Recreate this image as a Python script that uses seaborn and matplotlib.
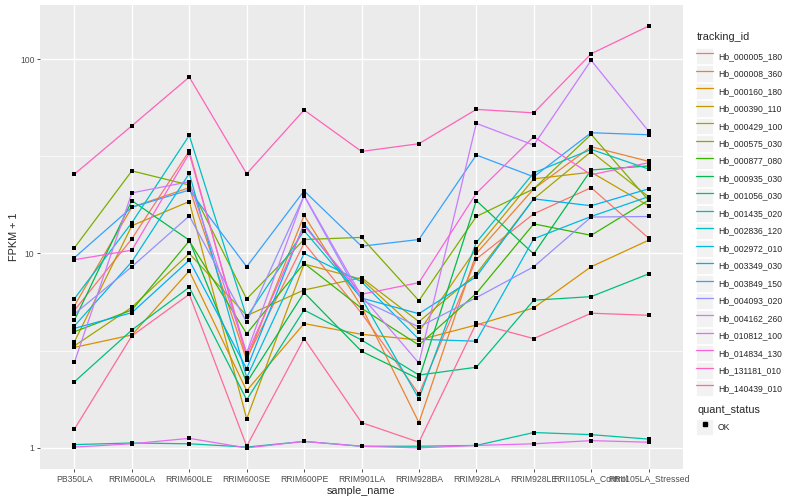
import numpy as np
import pandas as pd
import seaborn as sns
import matplotlib
matplotlib.use("Agg")
import matplotlib.pyplot as plt
from matplotlib.lines import Line2D
from matplotlib.patches import Rectangle
from matplotlib.legend_handler import HandlerTuple
from matplotlib.ticker import FixedLocator, NullFormatter

samples = ["PB350LA", "RRIM600LA", "RRIM600LE", "RRIM600SE", "RRIM600PE", "RRIM901LA",
           "RRIM928BA", "RRIM928LA", "RRIM928LE", "RRII105LA_Control", "RRII105LA_Stressed"]

# FPKM per sample (plotted as FPKM + 1)
hb_000005_180 = [4.10, 10.9, 32.7, 1.89, 10.3, 3.93, 0.89, 8.37, 15.0, 20.8, 11.0]
hb_000008_360 = [4.39, 16.3, 20.8, 1.83, 14.7, 4.33, 0.35, 9.0, 20.5, 34.4, 28.8]
hb_000160_180 = [2.29, 2.81, 7.13, 0.97, 3.36, 2.84, 2.59, 3.29, 4.25, 7.55, 10.7]
hb_000390_110 = [2.52, 12.9, 17.5, 0.41, 7.83, 6.37, 2.96, 9.6, 23.2, 25.2, 16.6]
hb_000429_100 = [2.35, 4.29, 9.0, 3.79, 5.49, 6.51, 3.46, 6.85, 18.1, 32.4, 18.6]
hb_000575_030 = [9.7, 25.6, 21.5, 4.84, 10.8, 11.1, 4.72, 14.5, 20.5, 40.0, 17.8]
hb_000877_080 = [2.96, 4.12, 10.6, 2.87, 7.9, 4.23, 2.38, 5.24, 13.2, 11.4, 17.8]
hb_000935_030 = [3.55, 17.7, 10.7, 1.17, 5.29, 2.14, 1.26, 17.7, 8.94, 25.9, 27.2]
hb_001056_030 = [1.19, 3.04, 5.70, 0.77, 4.12, 2.59, 1.37, 1.60, 4.75, 5.0, 6.85]
hb_001435_020 = [0.04, 0.06, 0.05, 0.01, 0.08, 0.02, 0.02, 0.03, 0.20, 0.17, 0.11]
hb_002836_120 = [4.86, 13.4, 39.5, 3.70, 12.1, 4.89, 0.79, 10.4, 25.0, 33.3, 26.2]
hb_002972_010 = [3.24, 8.07, 24.8, 1.30, 9.0, 6.16, 2.62, 2.54, 10.9, 14.5, 18.6]
hb_003349_030 = [3.12, 3.96, 8.23, 1.55, 13.2, 4.90, 3.90, 6.60, 18.1, 16.6, 20.5]
hb_003849_150 = [8.52, 16.3, 20.2, 7.55, 20.0, 9.9, 10.8, 31.1, 23.8, 40.8, 39.8]
hb_004093_020 = [3.89, 7.55, 14.6, 3.44, 18.8, 4.77, 3.19, 4.93, 7.55, 14.4, 14.5]
hb_004162_260 = [1.76, 19.5, 22.4, 2.09, 18.9, 5.05, 1.73, 45.7, 35.1, 97.5, 41.6]
hb_010812_100 = [0.01, 0.05, 0.12, 0.0, 0.08, 0.02, 0.0, 0.03, 0.05, 0.09, 0.07]
hb_014834_130 = [8.29, 9.4, 31.7, 2.01, 12.9, 5.17, 6.08, 19.4, 38.9, 24.4, 28.3]
hb_131181_010 = [24.6, 44.4, 79.8, 24.7, 53.7, 32.5, 35.7, 54.1, 51.9, 105.5, 146.8]
hb_140439_010 = [0.25, 2.77, 5.17, 0.02, 2.65, 0.35, 0.07, 3.38, 2.65, 3.93, 3.81]

series = {
    "Hb_000005_180": hb_000005_180, "Hb_000008_360": hb_000008_360,
    "Hb_000160_180": hb_000160_180, "Hb_000390_110": hb_000390_110,
    "Hb_000429_100": hb_000429_100, "Hb_000575_030": hb_000575_030,
    "Hb_000877_080": hb_000877_080, "Hb_000935_030": hb_000935_030,
    "Hb_001056_030": hb_001056_030, "Hb_001435_020": hb_001435_020,
    "Hb_002836_120": hb_002836_120, "Hb_002972_010": hb_002972_010,
    "Hb_003349_030": hb_003349_030, "Hb_003849_150": hb_003849_150,
    "Hb_004093_020": hb_004093_020, "Hb_004162_260": hb_004162_260,
    "Hb_010812_100": hb_010812_100, "Hb_014834_130": hb_014834_130,
    "Hb_131181_010": hb_131181_010, "Hb_140439_010": hb_140439_010,
}
ids = list(series.keys())


def hcl_color(h, c=100, l=65):
    # ggplot2 default hue palette (polar CIELUV -> sRGB)
    hr = np.deg2rad(h)
    u, v = c * np.cos(hr), c * np.sin(hr)
    xn, yn, zn = 95.047, 100.0, 108.883
    un = 4 * xn / (xn + 15 * yn + 3 * zn)
    vn = 9 * yn / (xn + 15 * yn + 3 * zn)
    y = yn * ((l + 16) / 116) ** 3
    up = u / (13 * l) + un
    vp = v / (13 * l) + vn
    x = y * 9 * up / (4 * vp)
    z = y * (12 - 3 * up - 20 * vp) / (4 * vp)
    x, y, z = x / 100, y / 100, z / 100
    rgb = np.array([3.2406 * x - 1.5372 * y - 0.4986 * z,
                    -0.9689 * x + 1.8758 * y + 0.0415 * z,
                    0.0557 * x - 0.2040 * y + 1.0570 * z])
    rgb = np.where(rgb > 0.0031308, 1.055 * np.abs(rgb) ** (1 / 2.4) - 0.055, 12.92 * rgb)
    return tuple(np.clip(rgb, 0, 1))


hues = np.linspace(15, 375, len(ids) + 1)[:-1]
palette = {tid: hcl_color(h) for tid, h in zip(ids, hues)}

rows = []
for tid, vals in series.items():
    for s, v in zip(samples, vals):
        rows.append({"tracking_id": tid, "sample_name": s, "fpkm": v, "quant_status": "OK"})
df = pd.DataFrame(rows)
df["FPKM + 1"] = df["fpkm"] + 1
df["sample_name"] = pd.Categorical(df["sample_name"], categories=samples, ordered=True)
df["x"] = df["sample_name"].cat.codes

sns.set_theme(style="darkgrid", rc={
    "axes.facecolor": "#EBEBEB",
    "grid.color": "white",
    "axes.edgecolor": "#EBEBEB",
})
plt.rcParams["font.family"] = ["Liberation Sans", "DejaVu Sans"]

fig, ax = plt.subplots(figsize=(8, 5), dpi=100)
fig.subplots_adjust(left=40 / 800, right=683 / 800, top=1 - 5 / 500, bottom=1 - 469 / 500)

sns.lineplot(data=df, x="x", y="FPKM + 1", hue="tracking_id", hue_order=ids,
             palette=palette, sort=False, estimator=None, linewidth=0.9,
             legend=False, ax=ax)
sns.scatterplot(data=df, x="x", y="FPKM + 1", color="black", marker="s", s=8,
                linewidth=0, legend=False, ax=ax, zorder=5)

ax.set_yscale("log")
lo = np.log10(df["FPKM + 1"].min())
hi = np.log10(df["FPKM + 1"].max())
pad = (hi - lo) * 0.05
ax.set_ylim(10 ** (lo - pad), 10 ** (hi + pad))
ax.set_xlim(-0.6, len(samples) - 0.4)

ax.yaxis.set_major_locator(FixedLocator([1, 10, 100]))
ax.set_yticklabels(["1", "10", "100"])
ax.yaxis.set_minor_locator(FixedLocator([10 ** 0.5, 10 ** 1.5]))
ax.yaxis.set_minor_formatter(NullFormatter())
ax.set_xticks(range(len(samples)))
ax.set_xticklabels(samples)

ax.grid(which="major", color="white", linewidth=1.0)
ax.grid(which="minor", axis="y", color="white", linewidth=0.5)
ax.tick_params(which="major", length=2.5, width=0.6, color="#333333",
               labelsize=6.2, labelcolor="#4D4D4D", pad=1.5)
ax.tick_params(which="minor", length=0)
ax.tick_params(axis="x", bottom=True)
ax.tick_params(axis="y", left=True)
for sp in ax.spines.values():
    sp.set_visible(False)

ax.set_xlabel("sample_name", fontsize=7.8, labelpad=2)
ax.set_ylabel("FPKM + 1", fontsize=7.8, labelpad=1)

# ggplot-like legends with grey key backgrounds
key_bg = dict(facecolor="#F2F2F2", edgecolor="white", linewidth=0.6)
leg_kw = dict(loc="upper left", frameon=False, fontsize=6.2,
              handlelength=2.0, handleheight=2.56, labelspacing=0.12,
              handletextpad=0.55, borderpad=0, borderaxespad=0,
              handler_map={tuple: HandlerTuple(ndivide=1, pad=0)})
handles = [(Rectangle((0, 0), 1, 1, **key_bg), Line2D([], [], color=palette[t], lw=0.9))
           for t in ids]
fig.text(697 / 800, 1 - 37 / 500, "tracking_id", fontsize=7.8, va="center", ha="left")
leg1 = fig.legend(handles, ids, bbox_to_anchor=(696 / 800, 1 - 48 / 500), **leg_kw)
qs_handle = [(Rectangle((0, 0), 1, 1, **key_bg),
              Line2D([], [], color="black", marker="s", ls="", markersize=2.9))]
fig.text(697 / 800, 1 - 410 / 500, "quant_status", fontsize=7.8, va="center", ha="left")
leg2 = fig.legend(qs_handle, ["OK"], bbox_to_anchor=(696 / 800, 1 - 419 / 500), **leg_kw)

fig.savefig("out.png", dpi=100, facecolor="white")
